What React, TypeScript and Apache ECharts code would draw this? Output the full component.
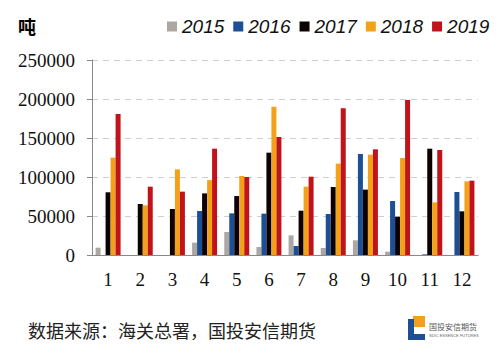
import React, { useEffect, useRef } from "react";
import * as echarts from "echarts";

const months = ["1", "2", "3", "4", "5", "6", "7", "8", "9", "10", "11", "12"];
const years = ["2015", "2016", "2017", "2018", "2019"];
const v2015 = [9400, 0, 0, 15800, 29500, 10200, 25200, 9000, 18800, 4300, 0, 0];
const v2016 = [0, 0, 0, 56400, 53400, 53000, 11500, 52600, 129500, 69200, 800, 80800];
const v2017 = [80400, 65400, 59000, 79000, 75600, 131200, 56800, 87200, 83800, 49200, 136300, 56000];
const v2018 = [124800, 63700, 109800, 96000, 101300, 190200, 87600, 117100, 128600, 124400, 67500, 94400];
const v2019 = [180800, 87600, 81200, 136300, 100000, 151300, 100400, 188000, 135500, 198700, 134600, 95300];
const colors = ["#aca7a3", "#1c4f96", "#0d0202", "#f4a11a", "#c0141a"];
const unitLabel = "吨";
const sourceText = "数据来源：海关总署，国投安信期货";

const serif = "Liberation Serif";

export default function App() {
  const ref = useRef<HTMLDivElement>(null);
  useEffect(() => {
    document.body.style.margin = "0";
    const chart = echarts.init(ref.current!, null, { renderer: "svg" });
    const all = [v2015, v2016, v2017, v2018, v2019];
    chart.setOption({
      animation: false,
      backgroundColor: "#ffffff",
      textStyle: { fontFamily: serif },
      grid: { left: 92, right: 26, top: 60, bottom: 106 },
      legend: {
        data: years,
        left: 162,
        top: 12,
        icon: "rect",
        itemWidth: 10,
        itemHeight: 10,
        itemGap: 9,
        textStyle: { fontSize: 19, fontStyle: "italic", fontFamily: "Liberation Sans", color: "#111" },
      },
      xAxis: {
        type: "category",
        data: months,
        axisLine: { lineStyle: { color: "#888", width: 1 } },
        axisTick: { show: false },
        axisLabel: { fontSize: 19, fontFamily: serif, color: "#111", margin: 15 },
      },
      yAxis: {
        type: "value",
        min: 0,
        max: 250000,
        interval: 50000,
        axisLine: { show: true, lineStyle: { color: "#888", width: 1 } },
        axisTick: { show: true, length: 5, lineStyle: { color: "#888" } },
        axisLabel: {
          fontSize: 19,
          fontFamily: serif,
          color: "#111",
          margin: 17,
          formatter: (v: number) => String(v),
        },
        splitLine: { lineStyle: { color: "#cfcfcf", type: [6, 5], width: 1 } },
      },
      series: years.map((y, i) => ({
        name: y,
        type: "bar",
        data: all[i],
        barWidth: 5,
        barGap: "0%",
        itemStyle: { color: colors[i] },
      })),
      graphic: [
        { type: "text", left: 18, top: 17, style: { text: unitLabel, fontSize: 18, fontWeight: "bold", fontFamily: "Noto Sans CJK SC", fill: "#000" } },
        { type: "text", left: 28, top: 321, style: { text: sourceText, fontSize: 18, fontFamily: "Noto Sans CJK SC", fill: "#222" } },
        { type: "rect", shape: { x: 413, y: 316, width: 12, height: 11 }, style: { fill: "#f2a01e" } },
        { type: "rect", shape: { x: 408, y: 319, width: 6, height: 21 }, style: { fill: "#1c4f96" } },
        { type: "rect", shape: { x: 408, y: 334, width: 17, height: 6 }, style: { fill: "#1c4f96" } },
        { type: "text", left: 429, top: 322, style: { text: "国投安信期货", fontSize: 8, fontFamily: "Noto Sans CJK SC", fill: "#555" } },
        { type: "text", left: 429, top: 333, style: { text: "SDIC ESSENCE FUTURES", fontSize: 4, fontFamily: "Liberation Sans", fill: "#666" } },
      ],
    });
    return () => chart.dispose();
  }, []);
  return <div ref={ref} style={{ width: 504, height: 361 }} />;
}
